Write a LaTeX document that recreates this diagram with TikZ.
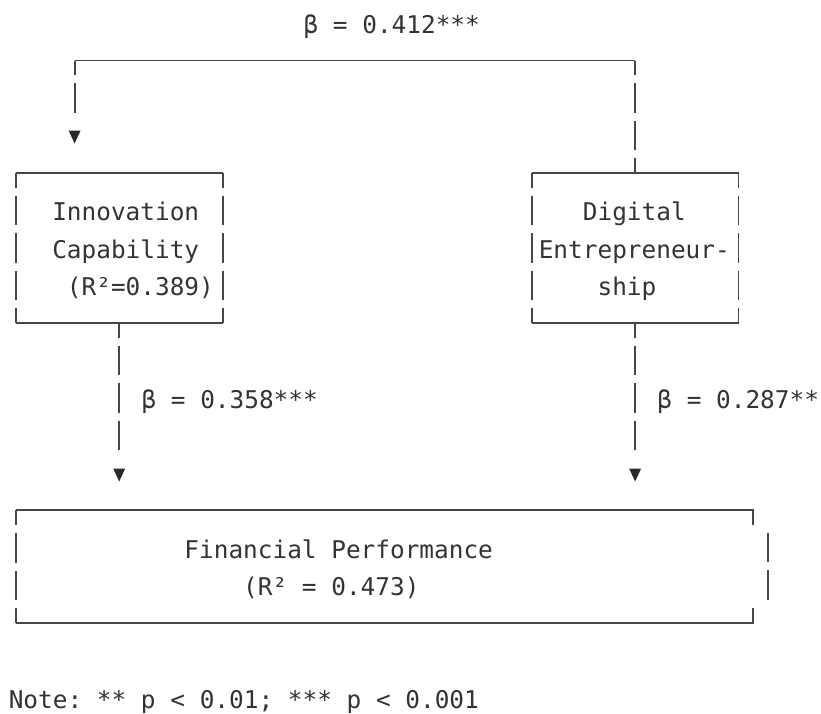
\documentclass[tikz,border=0pt]{standalone}
\usepackage{fontspec}
\setmonofont{DejaVu Sans Mono}
\usepackage{tikz}
\usetikzlibrary{positioning}
\definecolor{ink}{HTML}{333333}
\definecolor{rule}{HTML}{464646}
\definecolor{tipc}{HTML}{2A2A2A}

\begin{document}
\begin{tikzpicture}[x=1pt, y=-1pt,
    every node/.style = {font=\fontsize{24.4}{37.5}\selectfont\ttfamily\frenchspacing, text=ink},
    txt/.style = {inner sep=0pt, text height=29pt, text depth=9pt},
    block/.style = {inner sep=0pt, align=left, text height=29pt,
        execute at begin node={\spaceskip=\fontdimen2\font\relax}},
    hline/.style = {draw=rule, line width=1.8pt},
    vbar/.style = {draw=rule, line width=1.8pt, dash pattern=on 29.5pt off 8pt, dash phase=14.75pt},
    head/.style = {inner sep=0pt, minimum width=12pt, minimum height=13pt,
        path picture={\fill[tipc] (path picture bounding box.north west)
          -- (path picture bounding box.north east)
          -- (path picture bounding box.south) -- cycle;}}]
    \useasboundingbox (0,0) rectangle (821,713);

    \node[block, text depth=84pt, text width=192.6pt, minimum width=206.4pt, minimum height=150pt] (innov) at (119.2,248)
      {\hphantom{00}Innovation\\\hphantom{00}Capability\\\hphantom{000}(R²=0.389)};
    \node[block, text depth=84pt, text width=192.6pt, minimum width=206.4pt, minimum height=150pt] (dig) at (635.1,248)
      {\hphantom{000}Digital\\Entrepreneur-\\\hphantom{0000}ship};
    \node[block, text depth=46.5pt, text width=723.3pt, minimum width=737pt, minimum height=112.5pt] (fin) at (384.5,566.75)
      {\hphantom{00000000000}Financial Performance\\\hphantom{000000000000000}(R² = 0.473)};

    \foreach \n in {innov,dig} {
      \draw[hline] (\n.north west) -- (\n.north east);
      \draw[hline] (\n.south west) -- (\n.south east);
      \draw[vbar] (\n.north west) -- (\n.south west);
      \draw[vbar] (\n.north east) -- (\n.south east);
    }
    \draw[hline] (fin.north west) -- (fin.north east) -- ++(0,15);
    \draw[hline] (fin.south west) -- (fin.south east) -- ++(0,-15);
    \draw[vbar] (fin.north west) -- (fin.south west);
    \draw[vbar, dash phase=0pt] ([shift={(14.74,22.5)}]fin.north east) -- ([shift={(14.74,-22.5)}]fin.south east);

    \coordinate (ltop) at (74.6,60.5);
    \coordinate (rtop) at (dig.north |- ltop);
    \node[head] (h0) at (74.6,137) {};
    \node[head] (h1) at (innov.south |- 0,475) {};
    \node[head] (h2) at (dig.south |- 0,475) {};

    \draw[vbar] (dig.north) -- (rtop);
    \draw[hline] (rtop) -- (ltop);
    \draw[vbar, shorten >=17.75pt] (ltop) -- (h0.north);
    \draw[vbar, shorten >=18.25pt] (innov.south) -- (h1.north);
    \draw[vbar, shorten >=18.25pt] (dig.south) -- (h2.north);

    \node[txt, anchor=west] (b0) at (303.4,23) {β = 0.412***};
    \node[txt, anchor=west] (b1) at (141.3,398) {β = 0.358***};
    \node[txt, anchor=west] (b2) at (657.2,398) {β = 0.287**};
    \node[txt, anchor=west] (note) at (8.6,698) {Note: ** p < 0.01; *** p < 0.001};
\end{tikzpicture}
\end{document}
